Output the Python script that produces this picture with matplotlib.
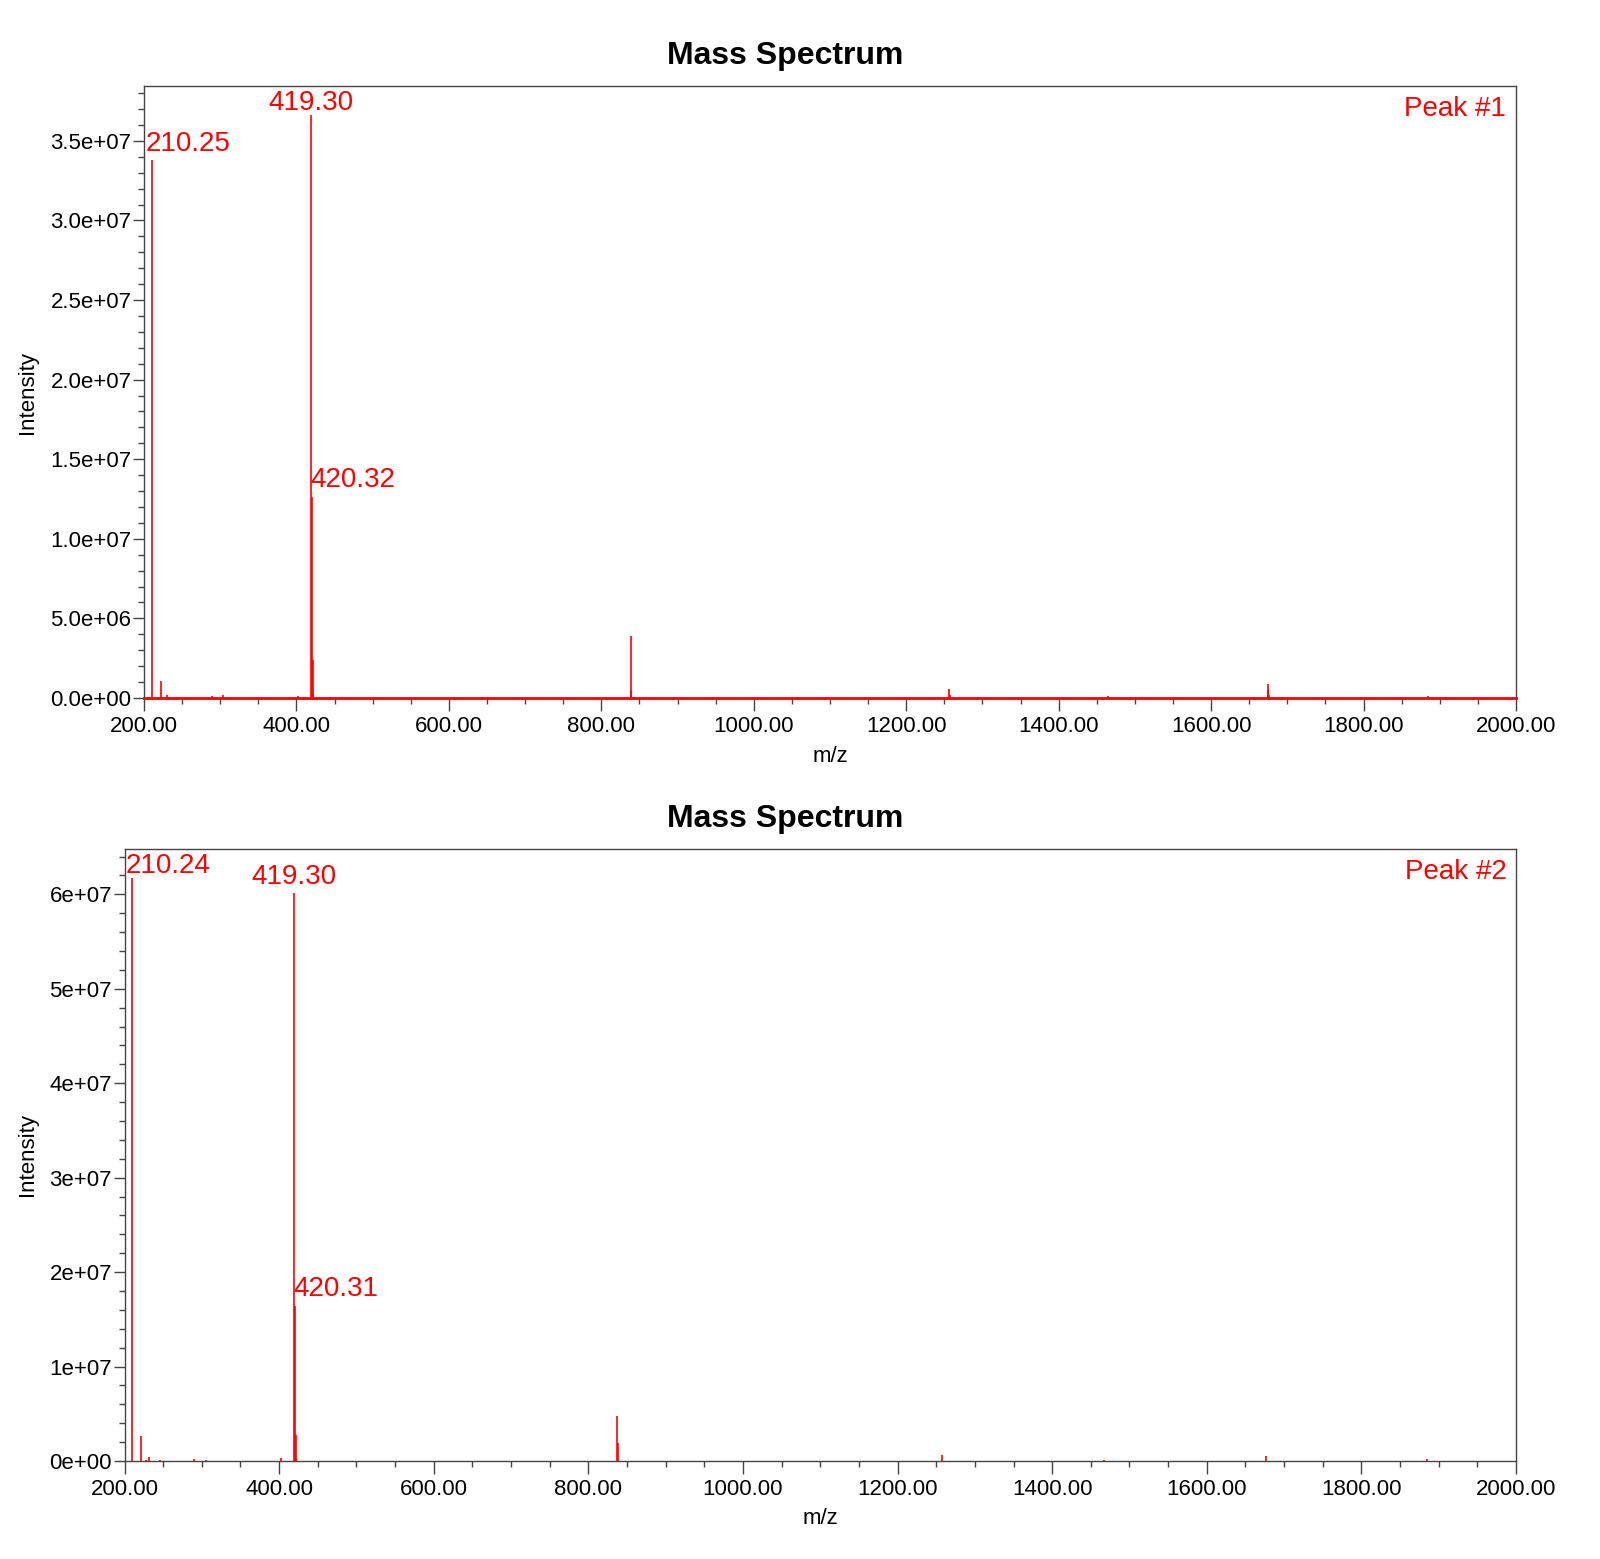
import matplotlib
matplotlib.use("Agg")
import matplotlib.pyplot as plt
from matplotlib.ticker import MultipleLocator, FuncFormatter

plt.rcParams['font.family'] = ['Liberation Sans', 'DejaVu Sans']

# ---- data ----
mz_1 = [210.25, 221.90, 230.60, 289.60, 304.00, 401.60, 419.30, 420.32, 421.33, 422.35,
        838.40, 839.40, 1255.7, 1256.8, 1464.8, 1674.0, 1675.2, 1676.2, 1883.9]
int_1 = [3.380e7, 1.05e6, 0.20e6, 0.15e6, 0.19e6, 0.12e6, 3.663e7, 1.262e7, 2.36e6, 0.30e6,
         3.87e6, 0.44e6, 0.58e6, 0.20e6, 0.15e6, 0.48e6, 0.86e6, 0.20e6, 0.12e6]
labels_1 = ["210.25", "419.30", "420.32"]
labeled_mz_1 = [210.25, 419.30, 420.32]

mz_2 = [210.24, 221.80, 228.00, 231.50, 245.60, 290.50, 305.00, 402.30, 419.30, 420.31,
        421.32, 422.33, 837.60, 838.60, 1257.7, 1466.9, 1676.4, 1884.9]
int_2 = [6.169e7, 2.69e6, 0.14e6, 0.39e6, 0.15e6, 0.25e6, 0.06e6, 0.33e6, 6.01e7, 1.64e7,
         2.76e6, 0.30e6, 4.81e6, 1.88e6, 0.60e6, 0.10e6, 0.50e6, 0.20e6]
labels_2 = ["210.24", "419.30", "420.31"]
labeled_mz_2 = [210.24, 419.30, 420.31]

titles = ["Mass Spectrum", "Mass Spectrum"]
peak_names = ["Peak #1", "Peak #2"]
x_ticks = [200, 400, 600, 800, 1000, 1200, 1400, 1600, 1800, 2000]

W, H = 1600, 1559
fig = plt.figure(figsize=(W / 100, H / 100), dpi=100)

panels = [
    dict(mz=mz_1, inten=int_1, lab=labels_1, lmz=labeled_mz_1, title=titles[0],
         name=peak_names[0], rect=[144, 86, 1516, 698], ylim=3.845e7, ymaj=5e6, ymin=1e6,
         yfmt="{:.1e}", red_base=True, title_y=56, xl_y=756, left_dy=2.5, main_dy=-0.5),
    dict(mz=mz_2, inten=int_2, lab=labels_2, lmz=labeled_mz_2, title=titles[1],
         name=peak_names[1], rect=[124.5, 849, 1516, 1461], ylim=6.48e7, ymaj=1e7, ymin=2e6,
         yfmt="{:.0e}", red_base=False, title_y=819, xl_y=1519, left_dy=-0.5, main_dy=2.5),
]

for p in panels:
    l, t, r, b = p["rect"]
    ax = fig.add_axes([l / W, 1 - b / H, (r - l) / W, (b - t) / H])
    ax.set_xlim(200, 2000)
    ax.set_ylim(0, p["ylim"])
    ax.vlines(p["mz"], 0, p["inten"], color="red", linewidth=1.2, zorder=3)
    if p["red_base"]:
        ax.axhline(0, color="red", linewidth=2.0, zorder=4, clip_on=False)

    for s in ax.spines.values():
        s.set_color("#444444")
        s.set_linewidth(1.0)

    ax.set_xticks(x_ticks)
    ax.xaxis.set_major_formatter(FuncFormatter(lambda v, pos: f"{v:.2f}"))
    ax.xaxis.set_minor_locator(MultipleLocator(50))
    ax.yaxis.set_major_locator(MultipleLocator(p["ymaj"]))
    ax.yaxis.set_minor_locator(MultipleLocator(p["ymin"]))
    fmt = p["yfmt"]
    ax.yaxis.set_major_formatter(FuncFormatter(lambda v, pos, fmt=fmt: fmt.format(v)))
    ax.tick_params(axis="both", which="major", direction="out", color="#444444",
                   labelsize=16, width=1.0)
    ax.tick_params(axis="x", which="major", length=9, pad=4)
    ax.tick_params(axis="y", which="major", length=8, pad=1)
    ax.tick_params(axis="both", which="minor", direction="out", color="#444444",
                   length=4.5, width=1.0)

    # peak labels
    cluster_max = max(i for mm, i in zip(p["mz"], p["inten"]) if 400 < mm < 450)
    for txt, m in zip(p["lab"], p["lmz"]):
        h = p["inten"][p["mz"].index(m)]
        if m < 300:
            ax.annotate(txt, xy=(200, h), xytext=(1, p["left_dy"]), textcoords="offset points",
                        ha="left", va="bottom", color="red", fontsize=20)
        elif h == cluster_max:
            ax.annotate(txt, xy=(m, h), xytext=(0, p["main_dy"]), textcoords="offset points",
                        ha="center", va="bottom", color="red", fontsize=20)
        else:
            ax.annotate(txt, xy=(m, h), xytext=(-1, 3), textcoords="offset points",
                        ha="left", va="bottom", color="red", fontsize=20)

    ax.annotate(p["name"], xy=(1, 1), xycoords="axes fraction", xytext=(-7, -7),
                textcoords="offset points", ha="right", va="top", color="red", fontsize=20)

    fig.text(785 / W, 1 - p["title_y"] / H, p["title"], ha="center", va="center",
             fontsize=23, fontweight="bold")
    fig.text((l + r) / 2 / W, 1 - p["xl_y"] / H, "m/z", ha="center", va="center", fontsize=16)
    fig.text(27.5 / W, 1 - (t + b) / 2 / H, "Intensity", ha="center", va="center",
             rotation=90, fontsize=16)

fig.savefig("out.png", dpi=100, facecolor="white")
